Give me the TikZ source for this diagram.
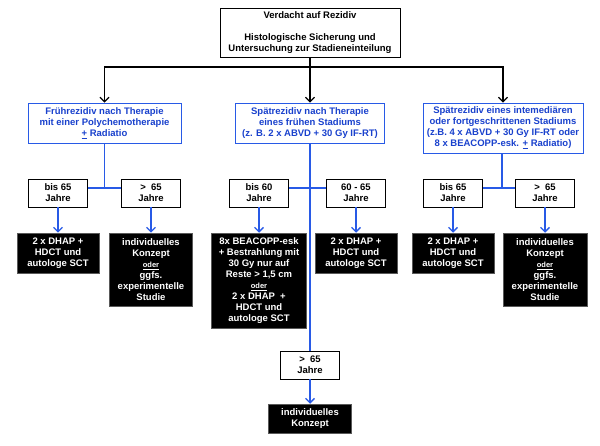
\documentclass[tikz,border=0pt]{standalone}
\usepackage{fontspec}
\setmainfont{Liberation Sans}
\usetikzlibrary{arrows.meta}
\definecolor{bltext}{RGB}{25,65,205}
\definecolor{blline}{RGB}{40,90,230}
\tikzset{
  base/.style={font=\fontsize{9.5}{11}\selectfont\bfseries, align=center, inner sep=0pt},
  topbox/.style={base, draw=black, line width=0.9pt, fill=white},
  bluebox/.style={base, draw=blline, line width=0.9pt, text=bltext, fill=white},
  agebox/.style={base, draw=black, line width=0.9pt, fill=white, minimum width=59pt, minimum height=28pt},
  blackbox/.style={base, draw=gray!70!black, line width=0.5pt, fill=black, text=white},
  blackarrow/.style={draw=black, line width=1.1pt, -{Straight Barb[length=4.5pt,width=9pt,line width=1.2pt]}},
  bluelink/.style={draw=blline, line width=1.3pt},
  bluearrow/.style={draw=blline, line width=1.3pt, -{Straight Barb[length=4.5pt,width=9pt,line width=1.3pt]}}
}
\newcommand{\oderline}{{\fontsize{7.5}{9}\selectfont\underline{oder}}}
\begin{document}
\begin{tikzpicture}[x=1pt,y=-1pt]
\useasboundingbox (0,0) rectangle (600,446);
% top
\node[topbox, minimum width=180pt, minimum height=49pt] (top) at (310,32.5)
  {Verdacht auf Rezidiv\\[11pt]Histologische Sicherung und\\Untersuchung zur Stadieneinteilung};
% blue boxes
\node[bluebox, minimum width=153pt, minimum height=40pt] (b1) at (104.5,123)
  {Frührezidiv nach Therapie\\mit einer Polychemotherapie\\\underline{+} Radiatio};
\node[bluebox, minimum width=149pt, minimum height=40pt] (b2) at (310,123)
  {Spätrezidiv nach Therapie\\eines frühen Stadiums\\(z. B. 2 x ABVD + 30 Gy IF-RT)};
\node[bluebox, minimum width=160pt, minimum height=50pt] (b3) at (503,128)
  {Spätrezidiv eines intemediären\\oder fortgeschrittenen Stadiums\\(z.B. 4 x ABVD + 30 Gy IF-RT oder\\8 x BEACOPP-esk. \underline{+} Radiatio)};
% age boxes
\node[agebox] (l1) at (58,193) {bis 65\\Jahre};
\node[agebox] (l2) at (151,193) {>\ \ 65\\Jahre};
\node[agebox] (m1) at (259,193) {bis 60\\Jahre};
\node[agebox] (m2) at (356,193) {60 - 65\\Jahre};
\node[agebox] (r1) at (453,193) {bis 65\\Jahre};
\node[agebox] (r2) at (545,193) {>\ \ 65\\Jahre};
\node[agebox] (m3) at (310,365) {>\ \ 65\\Jahre};
% black boxes
\node[blackbox, minimum width=82pt, minimum height=40pt] (L1) at (58,253)
  {2 x DHAP +\\HDCT und\\autologe SCT};
\node[blackbox, minimum width=83pt, minimum height=73pt] (L2) at (151,269.5)
  {individuelles\\Konzept\\\oderline\\ggfs.\\experimentelle\\Studie};
\node[blackbox, minimum width=95pt, minimum height=95pt] (M1) at (259,280.5)
  {8x BEACOPP-esk\\+ Bestrahlung mit\\30 Gy nur auf\\Reste > 1,5 cm\\\oderline\\2 x DHAP\ \ +\\HDCT und\\autologe SCT};
\node[blackbox, minimum width=82pt, minimum height=40pt] (M2) at (356,253)
  {2 x DHAP +\\HDCT und\\autologe SCT};
\node[blackbox, minimum width=82pt, minimum height=40pt] (R1) at (453,253)
  {2 x DHAP +\\HDCT und\\autologe SCT};
\node[blackbox, minimum width=84pt, minimum height=73pt] (R2) at (545,269.5)
  {individuelles\\Konzept\\\oderline\\ggfs.\\experimentelle\\Studie};
\node[blackbox, minimum width=83pt, minimum height=29pt] (M3) at (310,418.5)
  {individuelles\\Konzept};
% top connectors
\coordinate (j0) at (310,67);
\draw[line width=1.1pt] (top.south) -- (j0);
\draw[blackarrow] (j0) -| (b1.north);
\draw[blackarrow] (j0) -- (b2.north);
\draw[blackarrow] (j0) -| (b3.north);
% left branch
\coordinate (jl) at (104.5,188);
\draw[bluelink] (b1.south) -- (jl);
\draw[bluelink] (l1.east |- jl) -- (l2.west |- jl);
% middle branch
\coordinate (jm) at (310,188);
\draw[bluelink] (b2.south) -- (m3.north);
\draw[bluelink] (m1.east |- jm) -- (m2.west |- jm);
% right branch
\coordinate (jr) at (502,188);
\draw[bluelink] (b3.south -| jr) -- (jr);
\draw[bluelink] (r1.east |- jr) -- (r2.west |- jr);
% arrows to black boxes
\draw[bluearrow] (l1.south) -- (L1.north);
\draw[bluearrow] (l2.south) -- (L2.north);
\draw[bluearrow] (m1.south) -- (M1.north);
\draw[bluearrow] (m2.south) -- (M2.north);
\draw[bluearrow] (r1.south) -- (R1.north);
\draw[bluearrow] (r2.south) -- (R2.north);
\draw[bluearrow] (m3.south) -- (M3.north);
\end{tikzpicture}
\end{document}
